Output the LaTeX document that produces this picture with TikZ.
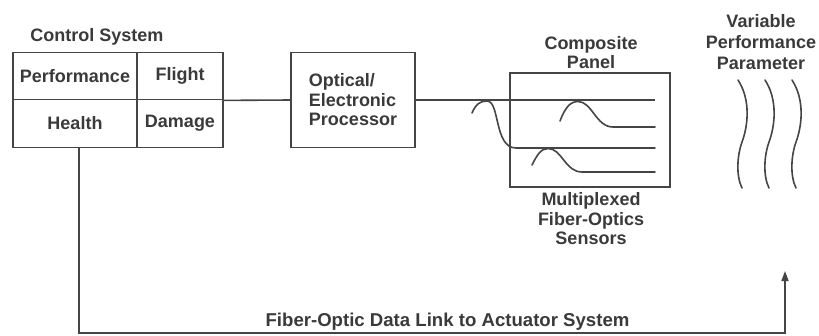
\documentclass[tikz,border=0pt]{standalone}
\usepackage{fontspec}
\setmainfont{Liberation Sans}
\usetikzlibrary{arrows.meta}
\definecolor{ink}{HTML}{3A3A3A}
\definecolor{wireink}{HTML}{454545}
\begin{document}
\begin{tikzpicture}[x=1pt,y=-1pt,
  txt/.style={font=\bfseries\fontsize{18}{19.5}\selectfont, text=ink, inner sep=0pt, align=center},
  cell/.style={draw=wireink, line width=1.3pt, inner sep=0pt, minimum height=47.5pt, font=\bfseries\fontsize{18}{19.5}\selectfont, text=ink},
  box/.style={draw=wireink, line width=1.3pt, inner sep=0pt},
  wire/.style={draw=wireink, line width=1.6pt},
  wave/.style={draw=wireink, line width=1.6pt, line cap=round},
]
\useasboundingbox (0,0) rectangle (819,335);
\fill[white] (0,0) rectangle (819,335);

% Control system table
\node[txt] (ctrltitle) at (97,37) {Control System};
\node[cell, minimum width=124pt] (perf) at (75,76) {Performance};
\node[cell, minimum width=86pt] (flight) at (180,76) {Flight};
\node[cell, minimum width=124pt] (health) at (75,123.5) {Health};
\node[cell, minimum width=86pt] (damage) at (180,123.5) {Damage};

% Processor
\node[box, txt, minimum width=124pt, minimum height=95pt, align=left] (proc) at (353,100) {Optical/\\Electronic\\Processor};

% Composite panel
\node[box, minimum width=160pt, minimum height=114pt] (panel) at (590,130) {};
\node[txt] (paneltitle) at (591,52.5) {Composite\\Panel};
\node[txt] (sensors) at (591,219) {Multiplexed\\Fiber-Optics\\Sensors};

% Variable performance parameter
\node[txt, font=\bfseries\fontsize{18}{21}\selectfont] (vpp) at (761,42) {Variable\\Performance\\Parameter};

% Bottom label
\node[txt, font=\bfseries\fontsize{18.6}{20}\selectfont] (link) at (447.5,322) {Fiber-Optic Data Link to Actuator System};

% connectors
\coordinate (f1end) at (655,100);
\draw[wire] (flight.south east) -- (proc.west);
\draw[wire] (proc.east) -- (f1end);

% fibers
\coordinate (f2a) at (560,121); \coordinate (f2end) at (655,127);
\coordinate (f3a) at (472,113); \coordinate (f3end) at (655,148);
\coordinate (f4a) at (532,165); \coordinate (f4end) at (655,172);
\draw[wire, line cap=round] (f2a) .. controls (565,108) and (570,101.5) .. (578,101.5)
  .. controls (592,101.5) and (596,127) .. (613,127) -- (f2end);
\draw[wire, line cap=round] (f3a) .. controls (476,104) and (480,101) .. (487,101)
  .. controls (500,101) and (494,148) .. (516,148) -- (f3end);
\draw[wire, line cap=round] (f4a) .. controls (537,155) and (541,148.5) .. (548,148.5)
  .. controls (562,148.5) and (565,172) .. (582,172) -- (f4end);

% waves
\foreach \x [count=\i] in {738,765,792} {
  \draw[wave] (\x,80) .. controls (\x+13,100) and (\x+10,126) .. (\x+4,142)
     .. controls (\x-1,156) and (\x-2,176) .. (\x+4,188);
}

% data link
\coordinate (tap) at (79,147);
\coordinate (c1) at (79,333);
\coordinate (c2) at (785,333);
\coordinate (tip) at (785,271);
\draw[wire, -{Triangle[length=10pt,width=7pt]}] (tap) -- (c1) -- (c2) -- (tip);
\end{tikzpicture}
\end{document}
